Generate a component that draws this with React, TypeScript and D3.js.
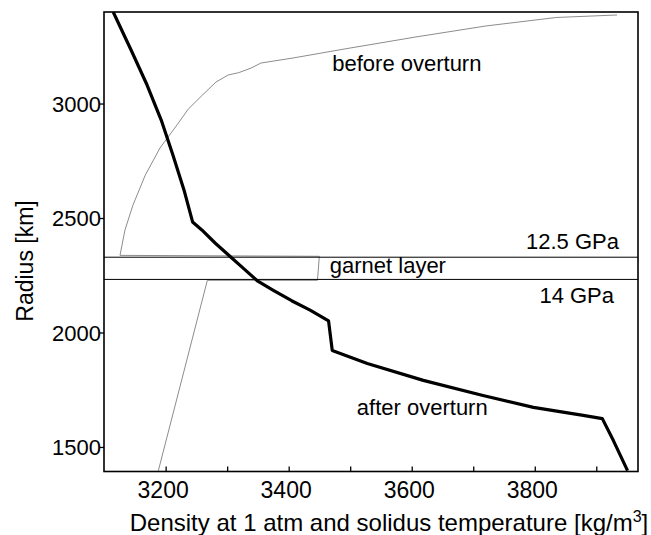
import * as d3 from "d3";
import { useEffect, useRef } from "react";

// density [kg/m3] vs radius [km]
const afterDensity = [3114, 3143, 3169, 3192, 3211, 3229, 3243, 3258, 3280, 3304, 3327, 3349, 3375, 3404, 3434, 3464, 3470, 3527, 3618, 3715, 3797, 3878, 3909, 3927, 3950];
const afterRadius = [3402, 3236, 3083, 2930, 2777, 2625, 2485, 2450, 2392, 2334, 2279, 2226, 2185, 2141, 2100, 2053, 1924, 1867, 1793, 1727, 1675, 1640, 1626, 1530, 1399];

const beforeDensity = [3933, 3834, 3720, 3606, 3491, 3406, 3354, 3338, 3318, 3301, 3281, 3259, 3236, 3218, 3190, 3166, 3146, 3133, 3125, 3449, 3446, 3267, 3187];
const beforeRadius = [3389, 3378, 3341, 3293, 3241, 3201, 3179, 3157, 3137, 3127, 3096, 3039, 2978, 2910, 2808, 2689, 2558, 2449, 2339, 2335, 2230, 2230, 1395];

// pressure boundaries of the garnet layer
const boundaryRadius = [2331, 2234];

const xTicks = [3200, 3300, 3400, 3500, 3600, 3700, 3800, 3900];
const xTickLabels = [3200, 3400, 3600, 3800];
const yTicks = [1500, 2000, 2500, 3000];

const labels = [
  { text: "before overturn", x: 3470, y: 3144, anchor: "start" },
  { text: "after overturn", x: 3510, y: 1642, anchor: "start" },
  { text: "12.5 GPa", x: 3936, y: 2367, anchor: "end" },
  { text: "garnet layer", x: 3466, y: 2262, anchor: "start" },
  { text: "14 GPa", x: 3928, y: 2131, anchor: "end" },
];

const W = 651;
const H = 535;
const FONT = "'Liberation Sans', Arial, sans-serif";

export default function App() {
  const ref = useRef<SVGSVGElement>(null);

  useEffect(() => {
    if (!ref.current) return;
    const svg = d3.select(ref.current);
    svg.selectAll("*").remove();

    const left = 104, right = 638, top = 12, bottom = 471.5;

    const x = d3.scaleLinear().domain([3099, 3967]).range([left, right]);
    const y = d3.scaleLinear().domain([1395, 3402]).range([bottom, top]);

    svg.append("defs").append("clipPath").attr("id", "plot")
      .append("rect").attr("x", left).attr("y", top)
      .attr("width", right - left).attr("height", bottom - top);

    const plot = svg.append("g").attr("clip-path", "url(#plot)");

    const path = d3.line();
    const before = beforeDensity.map((d, i) => [x(d), y(beforeRadius[i])] as [number, number]);
    const after = afterDensity.map((d, i) => [x(d), y(afterRadius[i])] as [number, number]);

    plot.append("path")
      .attr("d", path(before))
      .attr("fill", "none")
      .attr("stroke", "#8c8c8c")
      .attr("stroke-width", 1);

    plot.selectAll(".bound")
      .data(boundaryRadius)
      .enter()
      .append("line")
      .attr("x1", left).attr("x2", right)
      .attr("y1", (d) => y(d)).attr("y2", (d) => y(d))
      .attr("stroke", "#000")
      .attr("stroke-width", 1);

    plot.append("path")
      .attr("d", path(after))
      .attr("fill", "none")
      .attr("stroke", "#000")
      .attr("stroke-width", 3.2)
      .attr("stroke-linejoin", "round");

    // frame
    svg.append("rect")
      .attr("x", left).attr("y", top)
      .attr("width", right - left).attr("height", bottom - top)
      .attr("fill", "none").attr("stroke", "#000").attr("stroke-width", 1.6);

    // x ticks point inward
    svg.selectAll(".xt")
      .data(xTicks)
      .enter()
      .append("line")
      .attr("x1", (d) => x(d)).attr("x2", (d) => x(d))
      .attr("y1", bottom).attr("y2", bottom - 5)
      .attr("stroke", "#000").attr("stroke-width", 1.3);

    svg.selectAll(".xl")
      .data(xTickLabels)
      .enter()
      .append("text")
      .attr("x", (d) => x(d) - 3)
      .attr("y", 498)
      .attr("text-anchor", "middle")
      .attr("font-family", FONT)
      .attr("font-size", 23)
      .text((d) => d);

    svg.selectAll(".yt")
      .data(yTicks)
      .enter()
      .append("line")
      .attr("x1", left - 4).attr("x2", left)
      .attr("y1", (d) => y(d)).attr("y2", (d) => y(d))
      .attr("stroke", "#000").attr("stroke-width", 1.3);

    svg.selectAll(".yl")
      .data(yTicks)
      .enter()
      .append("text")
      .attr("x", left - 3)
      .attr("y", (d) => y(d))
      .attr("dy", "0.36em")
      .attr("text-anchor", "end")
      .attr("font-family", FONT)
      .attr("font-size", 22)
      .text((d) => d);

    svg.selectAll(".ann")
      .data(labels)
      .enter()
      .append("text")
      .attr("x", (d) => x(d.x))
      .attr("y", (d) => y(d.y))
      .attr("text-anchor", (d) => d.anchor)
      .attr("font-family", FONT)
      .attr("font-size", 22)
      .text((d) => d.text);

    const xt = svg.append("text")
      .attr("x", 389)
      .attr("y", 531)
      .attr("text-anchor", "middle")
      .attr("font-family", FONT)
      .attr("font-size", 24);
    xt.append("tspan").text("Density at 1 atm and solidus temperature [kg/m");
    xt.append("tspan").attr("font-size", 16).attr("dy", -9).text("3");
    xt.append("tspan").attr("dy", 9).text("]");

    svg.append("text")
      .attr("transform", "translate(33,261) rotate(-90)")
      .attr("text-anchor", "middle")
      .attr("font-family", FONT)
      .attr("font-size", 23)
      .text("Radius [km]");
  }, []);

  return (
    <svg
      ref={ref}
      width={W}
      height={H}
      style={{ position: "absolute", left: 0, top: 0, background: "#fff" }}
    />
  );
}
